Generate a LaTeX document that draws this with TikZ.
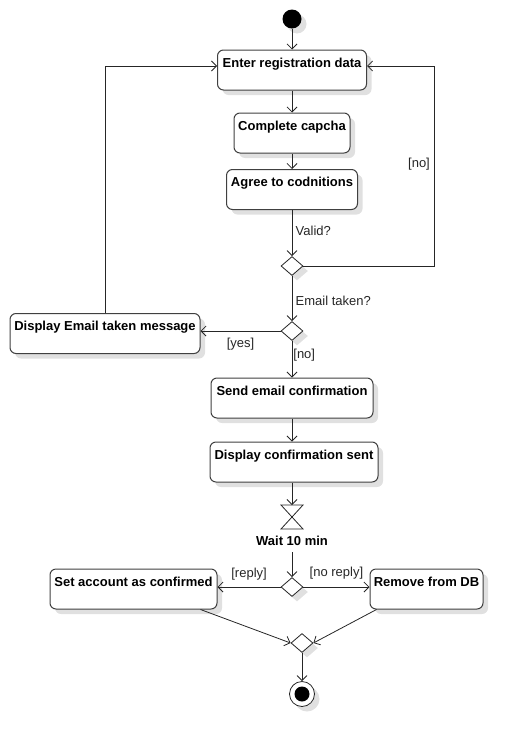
\documentclass[tikz,border=0pt]{standalone}
\usepackage{fontspec}
\setmainfont{Liberation Sans}
\usetikzlibrary{arrows.meta,shapes.geometric,shadows}
\begin{document}
\begin{tikzpicture}[x=1pt,y=-1pt,
  shad/.style={drop shadow={shadow xshift=5pt,shadow yshift=-5pt,fill=black!12,opacity=1}},
  act/.style={draw=black!75, line width=1pt, rounded corners=6pt, fill=white, shad,
    font=\fontsize{13}{15}\selectfont\bfseries, inner xsep=2pt, inner ysep=4pt,
    text height=13pt, text depth=19pt},
  dec/.style={diamond, draw=black!85, line width=0.8pt, fill=white, minimum width=22pt,
    minimum height=19pt, inner sep=0pt, shad},
  flow/.style={draw=black!85, line width=0.8pt, -{Straight Barb[length=5pt,width=10pt]}},
  guard/.style={font=\fontsize{13}{15}\selectfont, text=black!85},
  boldlbl/.style={font=\fontsize{13}{15}\selectfont\bfseries}]
\useasboundingbox (0,0) rectangle (524,747);

% start
\node[circle, fill=black, minimum size=19pt, inner sep=0pt, shad] (start) at (292,19) {};

% activities
\node[act, minimum width=149pt] (enter) at (292,70) {Enter registration data};
\node[act, minimum width=116pt] (capcha) at (292,133) {Complete capcha};
\node[act, minimum width=131pt] (agree) at (292,189.5) {Agree to codnitions};
\node[dec] (d1) at (292,266) {};
\node[dec] (d2) at (292,331) {};
\node[act, minimum width=190pt] (dispemail) at (105,333.5) {Display Email taken message};
\node[act, minimum width=162pt] (send) at (292,398) {Send email confirmation};
\node[act, minimum width=168pt] (dispconf) at (294,462) {Display confirmation sent};

% hourglass (wait)
\coordinate (hg) at (292,517);
\coordinate (hgT) at (292,505);
\draw[draw=black!85, line width=0.8pt, fill=white] (281,505) -- (303,505) -- (281,529) -- (303,529) -- cycle;
\node[boldlbl] (wait) at (292,541) {Wait 10 min};

\node[dec] (d3) at (292,587) {};
\node[act, minimum width=167pt] (setacc) at (133.5,589) {Set account as confirmed};
\node[act, minimum width=113pt] (remove) at (426.5,589) {Remove from DB};
\node[dec] (d4) at (302,643) {};

% end
\node[circle, draw=black!85, line width=0.8pt, fill=white, minimum size=25pt, inner sep=0pt, shad] (end) at (302,694) {};
\fill (end.center) circle (7.5pt);

% connectors
\draw[flow] (start) -- (enter);
\draw[flow] (enter) -- (capcha);
\draw[flow] (capcha) -- (agree);
\draw[flow] (agree) -- node[guard, right, pos=0.45] (lvalid) {Valid?} (d1);
\coordinate (noR) at (434,266);
\draw[flow] (d1.east) -- (noR) |- ([yshift=4pt]enter.east);
\node[guard] (lno1) at (419,164) {[no]};
\draw[flow] (d1.south) -- node[guard, right, pos=0.55] (ltaken) {Email taken?} (d2.north);
\draw[flow] (d2.west) -- node[guard, below=3pt] (lyes) {[yes]} (d2.west -| dispemail.east);
\draw[flow] (dispemail.north) |- ([yshift=4pt]enter.west);
\draw[flow] (d2.south) -- node[guard, right, inner xsep=1pt, pos=0.4] (lno2) {[no]} (send.north);
\draw[flow] (send.south) -- (send.south |- dispconf.north);
\draw[flow] (dispconf.south -| hgT) -- (hgT);
\draw[flow] (wait.south) ++(0,3) -- (d3.north);
\draw[flow] (d3.west) -- node[guard, above=3pt] (lreply) {[reply]} (d3.west -| setacc.east);
\draw[flow] (d3.east) -- node[guard, above=4pt] (lnoreply) {[no reply]} (d3.east -| remove.west);
\draw[flow] ([xshift=-17pt]setacc.south east) -- (d4.west);
\draw[flow] ([xshift=7pt]remove.south west) -- (d4.east);
\draw[flow] (d4.south) -- (end.north);
\end{tikzpicture}
\end{document}
